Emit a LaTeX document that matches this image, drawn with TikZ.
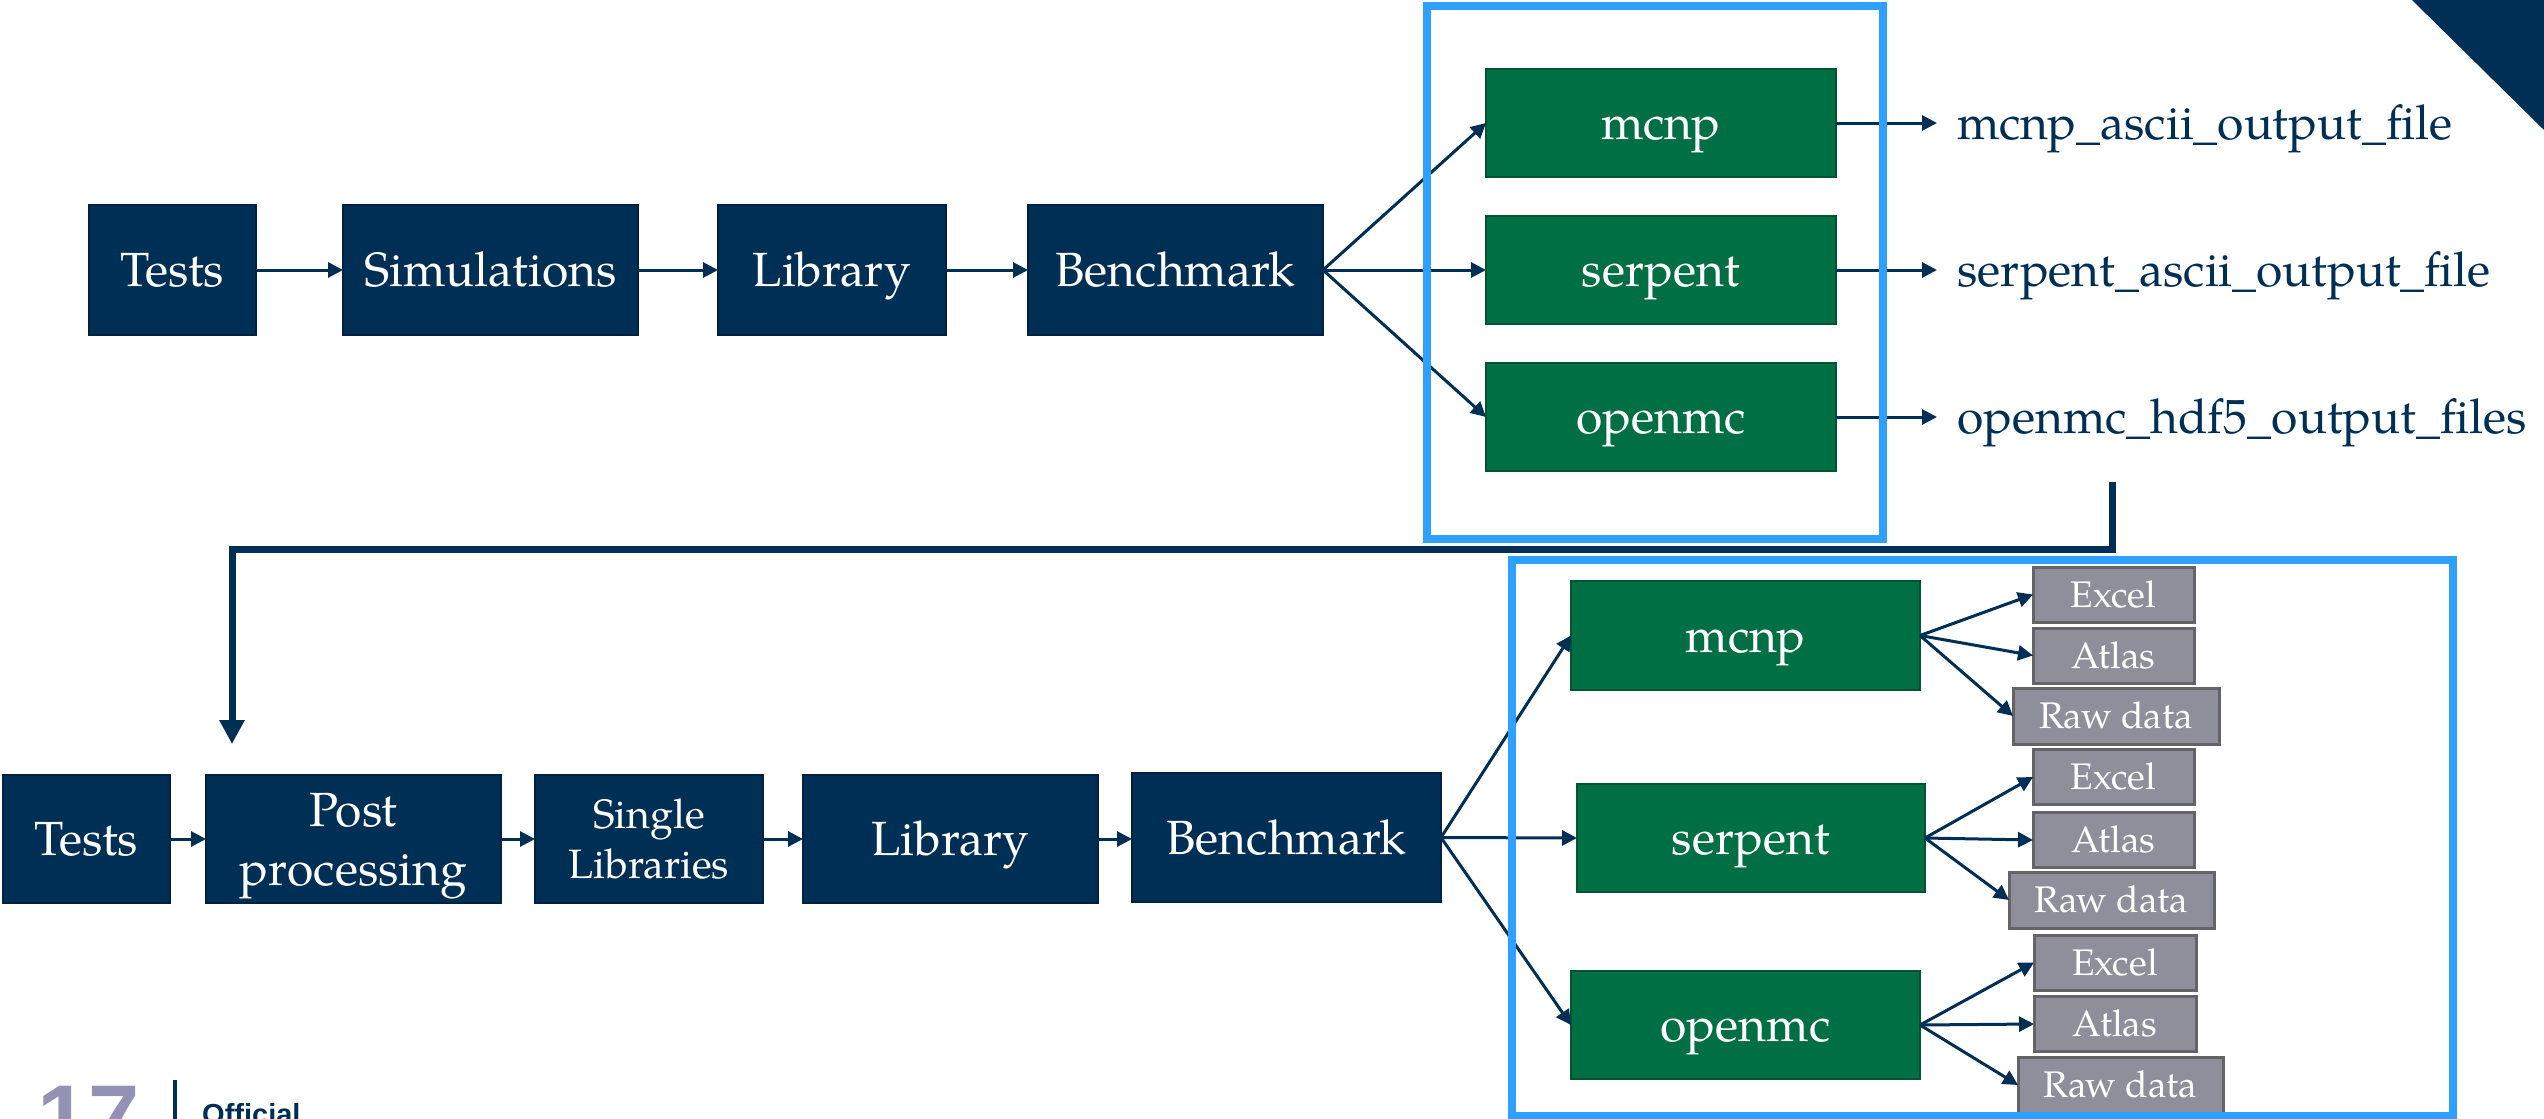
\documentclass[tikz,border=0pt]{standalone}
\usepackage{fontspec}
\setmainfont{TeX Gyre Pagella}
\newfontfamily\footfont{Liberation Sans}
\usetikzlibrary{arrows.meta}
\definecolor{navy}{RGB}{0,47,86}
\definecolor{navyedge}{RGB}{0,34,64}
\definecolor{dgreen}{RGB}{0,111,68}
\definecolor{dgreenedge}{RGB}{0,84,50}
\definecolor{skyblue}{RGB}{46,160,255}
\definecolor{boxgray}{RGB}{143,143,156}
\definecolor{boxgrayedge}{RGB}{100,100,104}
\definecolor{footgray}{RGB}{148,146,180}
\begin{document}
\begin{tikzpicture}[x=1pt,y=-1pt,
  navybase/.style={fill=navy, draw=navyedge, line width=2pt, text=white,
    inner sep=0pt, outer sep=0pt, minimum height=130pt},
  navybox/.style={navybase, font=\fontsize{48}{58}\selectfont, text height=33pt, text depth=0pt},
  navytwo/.style={navybase, align=center, text depth=0pt},
  greenbox/.style={fill=dgreen, draw=dgreenedge, line width=2pt, text=white,
    inner sep=0pt, outer sep=0pt, minimum width=350pt, minimum height=108pt,
    font=\fontsize{48}{58}\selectfont, text height=33pt, text depth=0pt},
  graybox/.style={fill=boxgray, draw=boxgrayedge, line width=3pt, text=white,
    inner sep=0pt, outer sep=0pt, minimum width=161pt, minimum height=55pt,
    font=\fontsize{37}{44}\selectfont, text height=25.5pt, text depth=0pt},
  outlabel/.style={anchor=west, inner xsep=20pt, inner ysep=0pt, outer sep=0pt, text=navy,
    font=\fontsize{48}{58}\selectfont, text height=33pt, text depth=0pt},
  arr/.style={draw=navy, line width=3pt, -{Triangle[length=15pt,width=15pt]}},
  bluebox/.style={draw=skyblue, line width=8pt},
  bracket/.style={draw=navy, line width=7pt, -{Triangle[length=24pt,width=24pt]}}
]
\clip (0,0) rectangle (2544,1119);
\fill[white] (0,0) rectangle (2544,1119);
% corner triangle
\fill[navy] (2412,0) -- (2544,0) -- (2544,130) -- cycle;

% ---------- top row ----------
\node[navybox, minimum width=167pt] (t1) at (172.5,270) {Tests};
\node[navybox, minimum width=295pt] (t2) at (490.5,270) {Simulations};
\node[navybox, minimum width=228pt] (t3) at (832,270) {Library};
\node[navybox, minimum width=295pt] (t4) at (1175.5,270) {Benchmark};

\node[greenbox] (g1) at (1661,123) {mcnp};
\node[greenbox] (g2) at (1661,270) {serpent};
\node[greenbox] (g3) at (1661,417) {openmc};

\node[outlabel] (o1) at (1937,123) {mcnp\_ascii\_output\_file};
\node[outlabel] (o2) at (1937,270) {serpent\_ascii\_output\_file};
\node[outlabel] (o3) at (1937,417) {openmc\_hdf5\_output\_files};

\draw[arr] (t1.east) -- (t2.west);
\draw[arr] (t2.east) -- (t3.west);
\draw[arr] (t3.east) -- (t4.west);
\draw[arr] (t4.east) -- (g1.west);
\draw[arr] (t4.east) -- (g2.west);
\draw[arr] (t4.east) -- (g3.west);
\draw[arr] (g1.east) -- (o1.west);
\draw[arr] (g2.east) -- (o2.west);
\draw[arr] (g3.east) -- (o3.west);

\draw[bluebox] (1427,6) rectangle (1883,539);

% ---------- bracket ----------
\coordinate (brS) at (2112,482);
\coordinate (brC) at (232,549);
\coordinate (brE) at (232,744);
\draw[bracket] (brS) |- (brC) -- (brE);

% ---------- bottom row ----------
\node[navybox, minimum width=167pt, minimum height=128pt] (b1) at (86.5,839) {Tests};
\node[navytwo, minimum width=295pt, minimum height=128pt, font=\fontsize{48}{59}\selectfont] (b2) at (353.5,839) {Post\\processing};
\node[navytwo, minimum width=228pt, minimum height=128pt, font=\fontsize{41}{50}\selectfont] (b3) at (649,839) {Single\\Libraries};
\node[navybox, minimum width=295pt, minimum height=128pt] (b4) at (950.5,839) {Library};
\node[navybox, minimum width=309pt, minimum height=129pt] (b5) at (1286.5,837.5) {Benchmark};

\node[greenbox, minimum width=349pt, minimum height=109pt] (h1) at (1745.5,635.5) {mcnp};
\node[greenbox, minimum width=348pt] (h2) at (1751,838) {serpent};
\node[greenbox, minimum width=349pt] (h3) at (1745.5,1025) {openmc};

\node[graybox] (m1) at (2113.5,594.5) {Excel};
\node[graybox] (m2) at (2113.5,655.5) {Atlas};
\node[graybox, minimum width=206pt, minimum height=56pt] (m3) at (2116,716) {Raw data};
\node[graybox] (s1) at (2113.5,777) {Excel};
\node[graybox] (s2) at (2113.5,840) {Atlas};
\node[graybox, minimum width=205pt, minimum height=56pt] (s3) at (2111.5,900) {Raw data};
\node[graybox, minimum width=162pt] (p1) at (2115,962.5) {Excel};
\node[graybox, minimum width=162pt] (p2) at (2115,1024) {Atlas};
\node[graybox, minimum width=205pt, minimum height=56pt] (p3) at (2120.5,1085) {Raw data};

\draw[arr] (b1.east) -- (b2.west);
\draw[arr] (b2.east) -- (b3.west);
\draw[arr] (b3.east) -- (b4.west);
\draw[arr] (b4.east) -- (b4.east -| b5.west);
\draw[arr] (b5.east) -- (h1.west);
\draw[arr] (b5.east) -- (h2.west);
\draw[arr] (b5.east) -- (h3.west);
\draw[arr] (h1.east) -- (m1.west);
\draw[arr] (h1.east) -- (m2.west);
\draw[arr] (h1.east) -- (m3.west);
\draw[arr] (h2.east) -- (s1.west);
\draw[arr] (h2.east) -- (s2.west);
\draw[arr] (h2.east) -- (s3.west);
\draw[arr] (h3.east) -- (p1.west);
\draw[arr] (h3.east) -- (p2.west);
\draw[arr] (h3.east) -- (p3.west);

\draw[bluebox] (1512,560) rectangle (2453,1116);

% ---------- footer ----------
\node[anchor=base west, inner sep=0pt, text=footgray,
  font=\footfont\bfseries\fontsize{92}{92}\selectfont] (pgnum) at (37,1149) {17};
\draw[navy, line width=4pt] (175,1080) -- (175,1125);
\node[anchor=base west, inner sep=0pt, text=navy,
  font=\footfont\bfseries\fontsize{29}{29}\selectfont] (official) at (202,1124) {Official};
\end{tikzpicture}
\end{document}
